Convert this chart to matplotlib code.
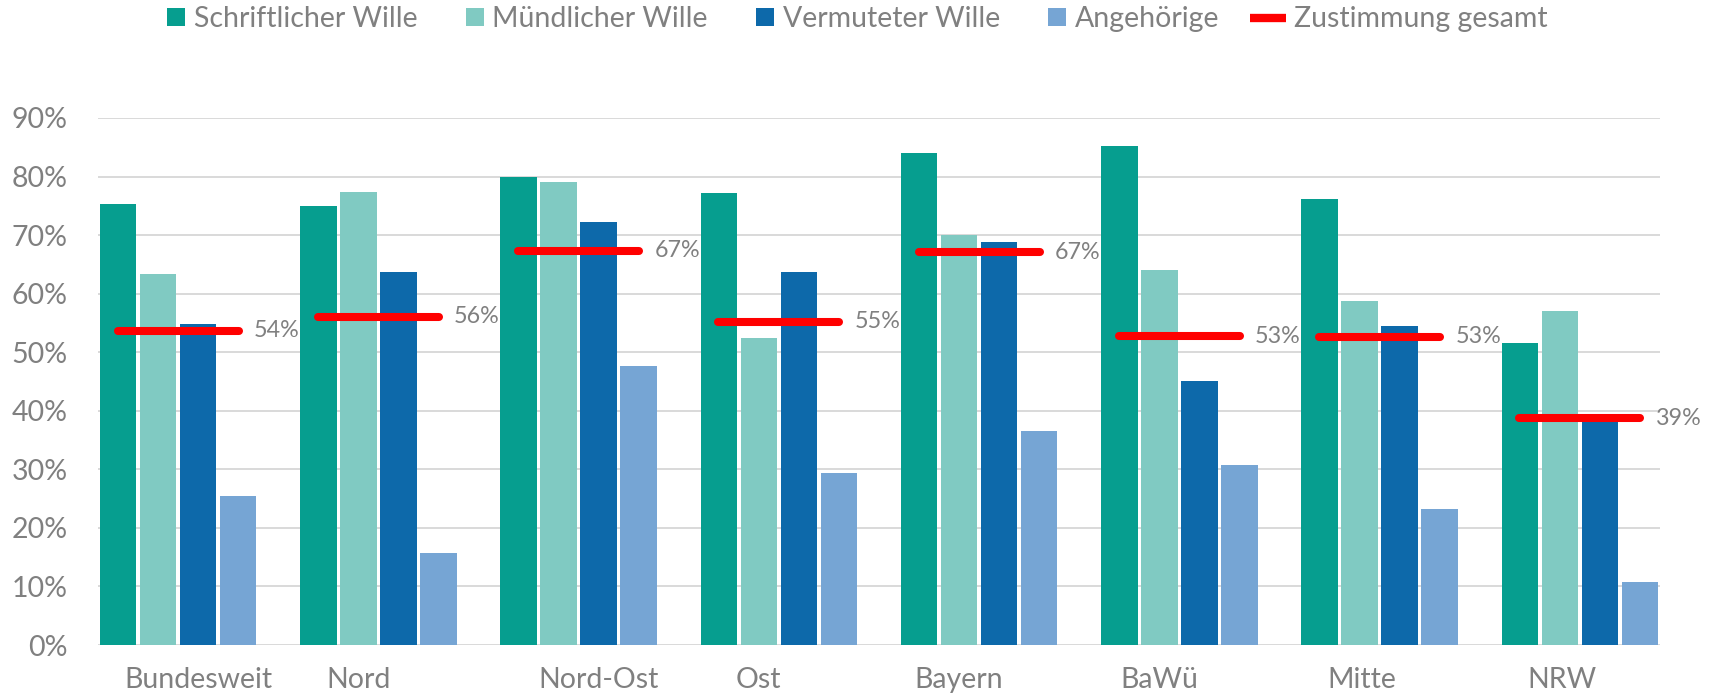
import numpy as np
import matplotlib
matplotlib.use("Agg")
import matplotlib.pyplot as plt
from matplotlib.patches import Rectangle
from matplotlib.lines import Line2D
from matplotlib.legend_handler import HandlerPatch

categories = ["Bundesweit", "Nord", "Nord-Ost", "Ost", "Bayern", "BaWü", "Mitte", "NRW"]
schriftlich = [75.3, 74.9, 80.0, 77.2, 84.1, 85.3, 76.1, 51.5]
muendlich = [63.4, 77.4, 79.1, 52.5, 70.1, 64.1, 58.8, 57.1]
vermutet = [54.8, 63.7, 72.3, 63.7, 68.9, 45.1, 54.5, 38.6]
angehoerige = [25.5, 15.7, 47.7, 29.3, 36.5, 30.7, 23.3, 10.7]
zustimmung = [53.7, 56.1, 67.3, 55.2, 67.1, 52.7, 52.6, 38.7]
series_names = ["Schriftlicher Wille", "Mündlicher Wille", "Vermuteter Wille", "Angehörige"]
line_name = "Zustimmung gesamt"
yticks = [0, 10, 20, 30, 40, 50, 60, 70, 80, 90]

colors = ["#069E8F", "#80CAC2", "#0D69AA", "#76A5D4"]
TXT = "#808080"
FONT = "Lato"
plt.rcParams["font.family"] = [FONT, "DejaVu Sans"]

fig = plt.figure(figsize=(17.18, 6.93), dpi=100)
ax = fig.add_axes([98 / 1718, 1 - 645 / 693, (1660 - 98) / 1718, (645 - 118) / 693])

x = np.arange(len(categories))
pitch, width = 0.2, 0.182
handles = []
for k, (vals, name) in enumerate(zip([schriftlich, muendlich, vermutet, angehoerige], series_names)):
    b = ax.bar(x + (k - 1.5) * pitch, vals, width=width, color=colors[k], label=name, zorder=2)
    handles.append(b)

ax.hlines(zustimmung, x - 0.302, x + 0.302, colors="#FF0000", linewidth=5.8,
          capstyle="round", zorder=3, label=line_name)
for xi, v in zip(x, zustimmung):
    ax.text(xi + 0.378, v, f"{round(v)}%", ha="left", va="center", fontsize=16.8, color=TXT)

ax.set_xlim(-0.40, len(categories) - 1 + 0.40)
ax.set_ylim(0, 90)
ax.set_yticks(yticks)
ax.set_yticklabels([f"{t}%" for t in yticks])
ax.yaxis.grid(True, color="#D9D9D9", linewidth=1.4, zorder=0)
ax.set_axisbelow(True)
for s in ax.spines.values():
    s.set_visible(False)
ax.tick_params(axis="both", length=0, labelsize=20.5, colors=TXT)
ax.tick_params(axis="y", pad=22)
ax.tick_params(axis="x", pad=16)
label_offsets = [0.1, -0.1, 0.1, -0.1, -0.1, -0.1, -0.09, -0.09]
ax.set_xticks(x + np.array(label_offsets))
ax.set_xticklabels(categories)


def square_patch(legend, orig_handle, xdescent, ydescent, width, height, fontsize):
    s = height * 1.05
    return Rectangle((width - s - xdescent, -ydescent + (height - s) / 2), s, s)


line_handle = Line2D([], [], color="#FF0000", linewidth=6.0, solid_capstyle="butt")
leg = fig.legend([h.patches[0] for h in handles] + [line_handle], series_names + [line_name],
                 loc="center", bbox_to_anchor=(0.494, 1 - 19 / 693), ncol=5, frameon=False,
                 fontsize=20.5, handlelength=1.25, handleheight=0.55, handletextpad=0.3,
                 columnspacing=1.08, borderpad=0,
                 handler_map={Rectangle: HandlerPatch(patch_func=square_patch)})
for t in leg.get_texts():
    t.set_color(TXT)

fig.savefig("out.png", dpi=100)
